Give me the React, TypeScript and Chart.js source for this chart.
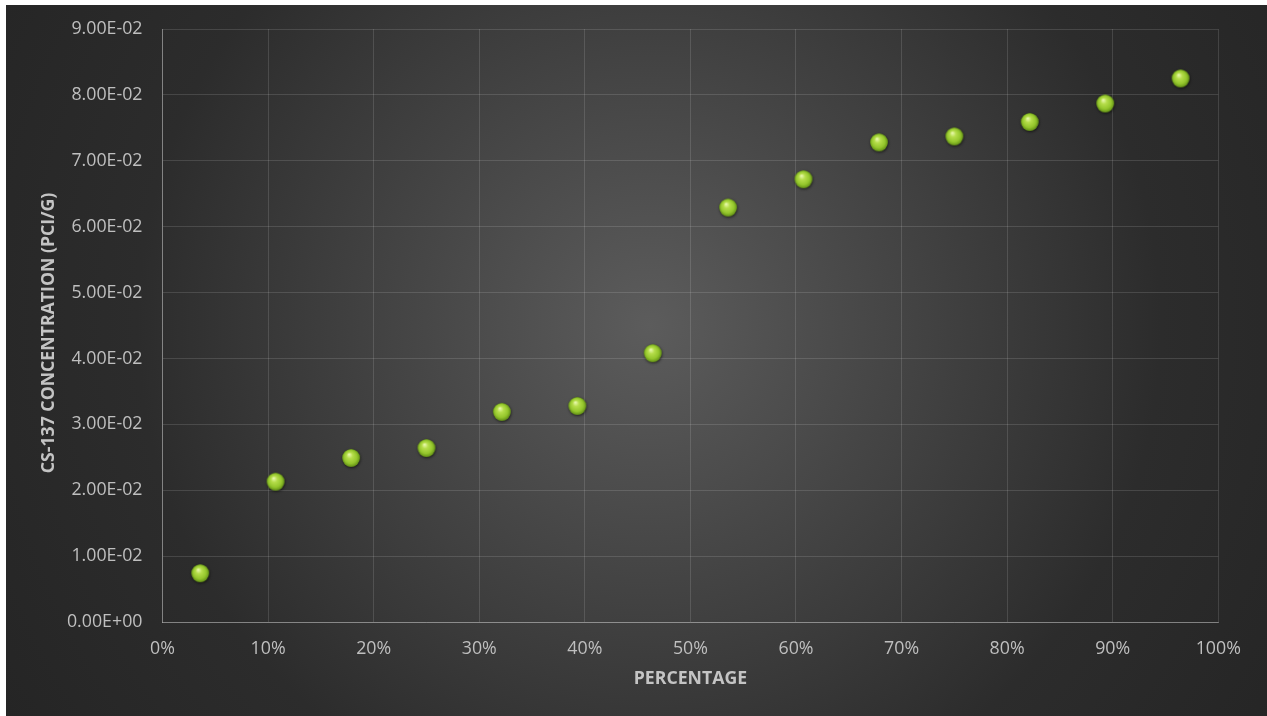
import React, { useEffect, useRef } from "react";
import { Chart, registerables } from "chart.js";

Chart.register(...registerables);

const percentages = [3.57, 10.71, 17.86, 25.0, 32.14, 39.29, 46.43, 53.57, 60.71, 67.86, 75.0, 82.14, 89.29, 96.43];
const concentrations = [0.0074, 0.0213, 0.0249, 0.0264, 0.0319, 0.0328, 0.0408, 0.0629, 0.0672, 0.0728, 0.0737, 0.0759, 0.0787, 0.0825];
const xTitle = "PERCENTAGE";
const yTitle = "CS-137 CONCENTRATION (PCI/G)";

const FAMILY = "'Open Sans', 'Noto Sans', sans-serif";

function formatExp(v: number): string {
  if (Math.abs(v) < 1e-12) return "0.00E+00";
  const s = v.toExponential(2);
  const [m, e] = s.split("e");
  const sign = e[0] === "-" ? "-" : "+";
  const digits = e.replace(/[+-]/, "").padStart(2, "0");
  return `${m}E${sign}${digits}`;
}

function makeSphere(): HTMLCanvasElement {
  const c = document.createElement("canvas");
  c.width = 26;
  c.height = 26;
  const ctx = c.getContext("2d")!;
  const cx = 13, cy = 13, r = 8.7;
  ctx.save();
  ctx.shadowColor = "rgba(0,0,0,0.7)";
  ctx.shadowBlur = 3;
  ctx.shadowOffsetX = 0.5;
  ctx.shadowOffsetY = 1;
  ctx.beginPath();
  ctx.arc(cx, cy, r, 0, Math.PI * 2);
  ctx.fillStyle = "#6d9b1c";
  ctx.fill();
  ctx.restore();
  const g = ctx.createRadialGradient(cx - 2, cy - 3.5, 0.5, cx, cy, r + 0.5);
  g.addColorStop(0, "#e6f7a8");
  g.addColorStop(0.3, "#b5dd4a");
  g.addColorStop(0.7, "#94c62c");
  g.addColorStop(1, "#5f8c14");
  ctx.beginPath();
  ctx.arc(cx, cy, r, 0, Math.PI * 2);
  ctx.fillStyle = g;
  ctx.fill();
  return c;
}

const yTitlePlugin = {
  id: "yTitlePlugin",
  afterDraw(chart: any) {
    const ctx = chart.ctx as CanvasRenderingContext2D;
    ctx.save();
    ctx.translate(43, 328);
    ctx.rotate(-Math.PI / 2);
    ctx.font = `bold 17.7px ${FAMILY}`;
    ctx.fillStyle = "#c4c4c4";
    ctx.textAlign = "center";
    ctx.textBaseline = "middle";
    ctx.fillText(yTitle, 0, 0);
    ctx.restore();
  },
};

export default function App() {
  const ref = useRef<HTMLCanvasElement | null>(null);

  useEffect(() => {
    document.body.style.margin = "0";
    document.body.style.background = "#ffffff";
    if (!ref.current) return;
    const sphere = makeSphere();
    const tickFont = { family: FAMILY, size: 17.8 };
    const titleFont = { family: FAMILY, size: 17.7, weight: "bold" as const };
    const chart = new Chart(ref.current, {
      type: "scatter",
      data: {
        datasets: [
          {
            label: "Cs-137",
            data: percentages.map((p, i) => ({ x: p, y: concentrations[i] })),
            pointStyle: sphere,
            pointRadius: 9,
          },
        ],
      },
      plugins: [yTitlePlugin],
      options: {
        animation: false,
        responsive: false,
        maintainAspectRatio: false,
        layout: { padding: { top: 24, right: 48.7, left: 0, bottom: 0 } },
        plugins: { legend: { display: false }, tooltip: { enabled: false } },
        scales: {
          x: {
            type: "linear",
            min: 0,
            max: 100,
            afterFit: (s: any) => {
              s.height = 94;
              s.paddingLeft = 0;
              s.paddingRight = 0;
            },
            ticks: {
              stepSize: 10,
              padding: 16.2,
              color: "#bfbfbf",
              font: tickFont,
              callback: (v: any) => `${v}%`,
              maxRotation: 0,
            },
            grid: { color: "rgba(255,255,255,0.13)", drawTicks: false },
            border: { color: "rgba(255,255,255,0.33)", width: 1 },
            title: {
              display: true,
              text: xTitle,
              color: "#c4c4c4",
              font: titleFont,
              padding: { top: 0, bottom: 26 },
            },
          },
          y: {
            type: "linear",
            min: 0,
            max: 0.09,
            afterFit: (s: any) => {
              s.width = 156.5;
              s.paddingTop = 0;
              s.paddingBottom = 0;
            },
            ticks: {
              stepSize: 0.01,
              padding: 20,
              color: "#bfbfbf",
              font: tickFont,
              callback: (v: any) => formatExp(Number(v)),
            },
            grid: { color: "rgba(255,255,255,0.13)", drawTicks: false },
            border: { color: "rgba(255,255,255,0.33)", width: 1 },
            title: { display: false, text: yTitle },
          },
        },
      },
    });
    return () => chart.destroy();
  }, []);

  return (
    <div
      style={{
        position: "absolute",
        left: 6,
        top: 5,
        width: 1261,
        height: 711,
        background:
          "radial-gradient(circle farthest-corner at 51% 45%, #5c5c5c 0%, #2c2c2c 68%, #252525 100%)",
      }}
    >
      <canvas ref={ref} width={1261} height={711} style={{ display: "block", width: 1261, height: 711 }} />
    </div>
  );
}
